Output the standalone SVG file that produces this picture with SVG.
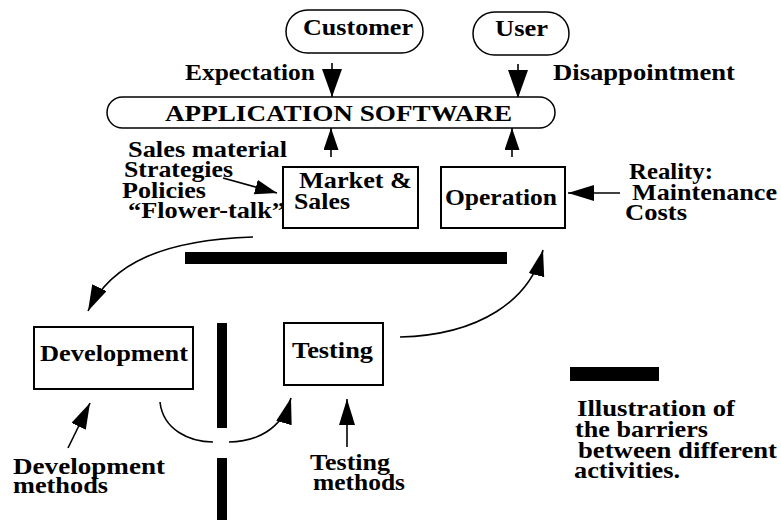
<svg xmlns="http://www.w3.org/2000/svg" width="781" height="520" viewBox="0 0 781 520">
  <style>
    text { font-family: "Liberation Serif", "Times New Roman", serif; font-weight: bold; font-size: 23px; fill: #000; }
    .box { fill: #fff; stroke: #000; stroke-width: 2; }
    .pill { fill: #fff; stroke: #000; stroke-width: 1.5; }
    .wire { fill: none; stroke: #000; stroke-width: 1.6; }
    .bar { fill: #000; }
  </style>
  <defs>
    <marker id="head" markerUnits="userSpaceOnUse" markerWidth="28" markerHeight="18" refX="26" refY="8" orient="auto">
      <path d="M0,0 L26,8 L0,16 z" fill="#000"/>
    </marker>
    <marker id="headWide" markerUnits="userSpaceOnUse" markerWidth="30" markerHeight="22" refX="28" refY="10" orient="auto">
      <path d="M0,0 L28,10 L0,20 z" fill="#000"/>
    </marker>
    <marker id="headSmall" markerUnits="userSpaceOnUse" markerWidth="24" markerHeight="16" refX="22" refY="7.5" orient="auto">
      <path d="M0,0 L22,7.5 L0,15 z" fill="#000"/>
    </marker>
  </defs>

  <rect width="781" height="520" fill="#fff"/>

  <!-- barriers between activities -->
  <g id="barriers">
    <rect class="bar" x="185" y="252" width="322" height="12"/>
    <rect class="bar" x="217" y="323" width="10" height="105"/>
    <rect class="bar" x="217" y="458" width="10" height="62"/>
  </g>

  <!-- connectors -->
  <g id="connectors">
    <path class="wire" d="M332,63 L332,97" marker-end="url(#headWide)"/>
    <path class="wire" d="M518,64 L518,98" marker-end="url(#headWide)"/>
    <path class="wire" d="M331,157 L331,128" marker-end="url(#headSmall)"/>
    <path class="wire" d="M512,157 L512,128" marker-end="url(#headSmall)"/>
    <path class="wire" d="M620,193 L568,193" marker-end="url(#head)"/>
    <path class="wire" d="M223,178 L277,193" marker-end="url(#headSmall)"/>
    <path class="wire" d="M253,237 C165,240 112,262 88,311" marker-end="url(#head)"/>
    <path class="wire" d="M400,337 C480,335 530,300 543,250" marker-end="url(#head)"/>
    <path class="wire" d="M160,402 C163,430 190,442 213,442"/>
    <path class="wire" d="M229,442 C255,442 282,430 291,398" marker-end="url(#head)"/>
    <path class="wire" d="M68,448 L90,403" marker-end="url(#head)"/>
    <path class="wire" d="M347,447 L347,399" marker-end="url(#head)"/>
  </g>

  <!-- actors -->
  <g id="customer">
    <rect class="pill" x="286" y="10" width="137" height="43" rx="21.5"/>
    <text x="303" y="35" textLength="110" lengthAdjust="spacingAndGlyphs">Customer</text>
  </g>
  <g id="user">
    <rect class="pill" x="473" y="12" width="96" height="43" rx="21.5"/>
    <text x="495" y="36" textLength="53" lengthAdjust="spacingAndGlyphs">User</text>
  </g>

  <g id="application-software">
    <rect class="pill" x="107" y="97" width="448" height="31" rx="15.5"/>
    <text x="165" y="121" textLength="347" lengthAdjust="spacingAndGlyphs">APPLICATION SOFTWARE</text>
  </g>

  <!-- activities -->
  <g id="market-sales">
    <rect class="box" x="283" y="167" width="135" height="61"/>
    <text x="299" y="188" textLength="113" lengthAdjust="spacingAndGlyphs">Market &amp;</text>
    <text x="294" y="209" textLength="56" lengthAdjust="spacingAndGlyphs">Sales</text>
  </g>
  <g id="operation">
    <rect class="box" x="441" y="167" width="124" height="61"/>
    <text x="445" y="205" textLength="112" lengthAdjust="spacingAndGlyphs">Operation</text>
  </g>
  <g id="development">
    <rect class="box" x="34" y="327" width="159" height="62"/>
    <text x="40" y="361" textLength="148" lengthAdjust="spacingAndGlyphs">Development</text>
  </g>
  <g id="testing">
    <rect class="box" x="284" y="323" width="99" height="62"/>
    <text x="292" y="358" textLength="81" lengthAdjust="spacingAndGlyphs">Testing</text>
  </g>

  <!-- annotations -->
  <g id="labels">
    <text x="185" y="80" textLength="130" lengthAdjust="spacingAndGlyphs">Expectation</text>
    <text x="553" y="80" textLength="182" lengthAdjust="spacingAndGlyphs">Disappointment</text>

    <text x="128" y="157" textLength="159" lengthAdjust="spacingAndGlyphs">Sales material</text>
    <text x="124" y="177" textLength="109" lengthAdjust="spacingAndGlyphs">Strategies</text>
    <text x="122" y="198" textLength="84" lengthAdjust="spacingAndGlyphs">Policies</text>
    <text x="128" y="218" textLength="157" lengthAdjust="spacingAndGlyphs">“Flower-talk”</text>

    <text x="629" y="179" textLength="84" lengthAdjust="spacingAndGlyphs">Reality:</text>
    <text x="632" y="200" textLength="145" lengthAdjust="spacingAndGlyphs">Maintenance</text>
    <text x="625" y="220" textLength="62" lengthAdjust="spacingAndGlyphs">Costs</text>

    <text x="13" y="474" textLength="152" lengthAdjust="spacingAndGlyphs">Development</text>
    <text x="13" y="493" textLength="95" lengthAdjust="spacingAndGlyphs">methods</text>

    <text x="310" y="470" textLength="80" lengthAdjust="spacingAndGlyphs">Testing</text>
    <text x="313" y="490" textLength="92" lengthAdjust="spacingAndGlyphs">methods</text>
  </g>

  <!-- legend -->
  <g id="legend">
    <rect class="bar" x="570" y="367" width="89" height="14"/>
    <text x="577" y="416" textLength="158" lengthAdjust="spacingAndGlyphs">Illustration of</text>
    <text x="575" y="437" textLength="133" lengthAdjust="spacingAndGlyphs">the barriers</text>
    <text x="578" y="458" textLength="199" lengthAdjust="spacingAndGlyphs">between different</text>
    <text x="574" y="478" textLength="106" lengthAdjust="spacingAndGlyphs">activities.</text>
  </g>
</svg>
